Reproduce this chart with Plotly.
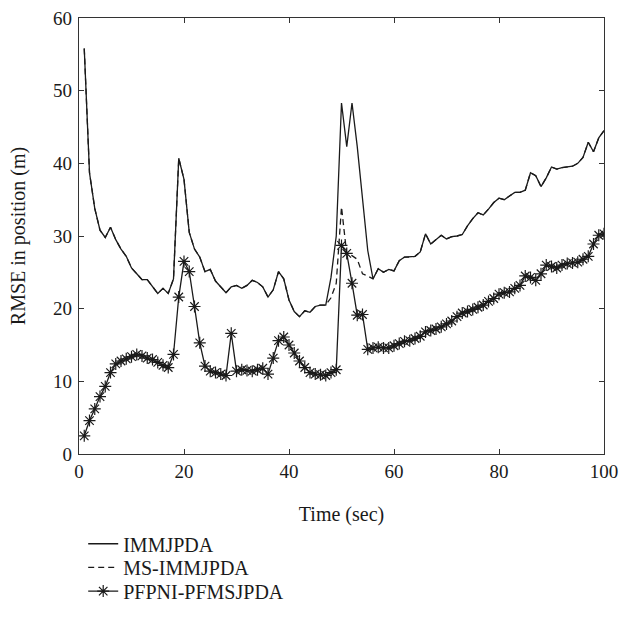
import plotly.graph_objects as go

time = list(range(1, 101))

immjpda = [55.8, 38.7, 33.8, 30.8, 29.8, 31.2, 29.5, 28.2, 27.2, 25.6,
           24.8, 24.0, 24.0, 23.1, 22.1, 22.8, 22.1, 24.1, 40.7, 37.8,
           30.5, 28.2, 27.1, 25.1, 25.4, 23.8, 23.0, 22.2, 23.0, 23.2,
           22.8, 23.2, 23.9, 23.6, 23.0, 21.6, 22.6, 25.1, 24.1, 21.2,
           19.6, 18.9, 19.7, 19.5, 20.3, 20.5, 20.5, 24.3, 30.0, 48.3,
           42.3, 48.3, 42.3, 35.0, 28.0, 24.1, 25.5, 25.0, 25.4, 25.2,
           26.6, 27.1, 27.1, 27.2, 27.8, 30.3, 28.9, 29.5, 30.1, 29.6,
           29.9, 30.0, 30.2, 31.4, 32.4, 33.2, 32.9, 33.7, 34.6, 35.2,
           35.0, 35.5, 36.0, 36.0, 36.3, 38.7, 38.3, 36.8, 38.0, 39.5,
           39.2, 39.4, 39.5, 39.6, 40.0, 40.8, 42.9, 41.6, 43.5, 44.5]

ms_immjpda = [55.8, 38.7, 33.8, 30.8, 29.8, 31.2, 29.5, 28.2, 27.2, 25.6,
              24.8, 24.0, 24.0, 23.1, 22.1, 22.8, 22.1, 24.1, 40.7, 37.8,
              30.5, 28.2, 27.1, 25.1, 25.4, 23.8, 23.0, 22.2, 23.0, 23.2,
              22.8, 23.2, 23.9, 23.6, 23.0, 21.6, 22.6, 25.1, 24.1, 21.2,
              19.6, 18.9, 19.7, 19.5, 20.3, 20.5, 20.5, 21.5, 23.5, 34.0,
              27.5, 27.3, 26.8, 24.8, 24.5, 24.1, 25.5, 25.0, 25.4, 25.2,
              26.6, 27.1, 27.1, 27.2, 27.8, 30.3, 28.9, 29.5, 30.1, 29.6,
              29.9, 30.0, 30.2, 31.4, 32.4, 33.2, 32.9, 33.7, 34.6, 35.2,
              35.0, 35.5, 36.0, 36.0, 36.3, 38.7, 38.3, 36.8, 38.0, 39.5,
              39.2, 39.4, 39.5, 39.6, 40.0, 40.8, 42.9, 41.6, 43.5, 44.5]

pfpni = [2.5, 4.6, 6.2, 7.9, 9.3, 11.2, 12.4, 12.8, 13.1, 13.4,
         13.7, 13.5, 13.2, 13.0, 12.6, 12.2, 11.9, 13.7, 21.6, 26.5,
         25.1, 20.3, 15.3, 12.1, 11.4, 11.2, 11.0, 10.8, 16.6, 11.4,
         11.6, 11.5, 11.4, 11.6, 11.8, 11.0, 13.2, 15.6, 16.1, 15.0,
         13.9, 12.8, 11.9, 11.2, 11.0, 10.9, 10.8, 11.2, 11.6, 28.7,
         27.6, 23.5, 19.1, 19.2, 14.4, 14.6, 14.7, 14.6, 14.6, 14.9,
         15.2, 15.5, 15.6, 15.9, 16.2, 16.8, 17.0, 17.2, 17.5, 17.9,
         18.3, 18.9, 19.4, 19.6, 19.9, 20.2, 20.5, 21.0, 21.4, 22.0,
         22.2, 22.3, 22.8, 23.2, 24.5, 24.3, 23.9, 24.8, 26.0, 25.8,
         25.6, 26.0, 26.2, 26.3, 26.4, 26.8, 27.2, 28.9, 30.1, 30.3]

x_ticks = [0, 20, 40, 60, 80, 100]
y_ticks = [0, 10, 20, 30, 40, 50, 60]

FONT = "Liberation Serif"
INK = "#1a1a1a"

fig = go.Figure()
fig.add_trace(go.Scatter(x=time, y=ms_immjpda, mode="lines", name="MS-IMMJPDA",
                         line=dict(color=INK, width=1.3, dash="6px,4px"), legend="legend2"))
fig.add_trace(go.Scatter(x=time, y=immjpda, mode="lines", name="IMMJPDA",
                         line=dict(color=INK, width=1.3), legend="legend"))
fig.add_trace(go.Scatter(x=time, y=pfpni, mode="lines+markers", name="PFPNI-PFMSJPDA",
                         line=dict(color=INK, width=1.3),
                         marker=dict(symbol="asterisk-open", size=10,
                                     line=dict(color=INK, width=1.2)),
                         legend="legend3"))

axis_common = dict(showgrid=False, zeroline=False, showline=True, linecolor="#333",
                   linewidth=1.3, mirror="ticks", ticks="inside", ticklen=5,
                   tickcolor="#333", automargin=False, ticklabeloverflow="allow",
                   tickfont=dict(family=FONT, size=19, color=INK))

fig.update_xaxes(range=[0, 100], tickvals=x_ticks, ticktext=[str(v) for v in x_ticks],
                 title=dict(text="Time (sec)", font=dict(family=FONT, size=20, color=INK), standoff=26),
                 **axis_common)
fig.update_yaxes(range=[0, 60], tickvals=y_ticks, ticktext=[str(v) for v in y_ticks],
                 ticklabelstandoff=2,
                 title=dict(text="RMSE in position (m)", font=dict(family=FONT, size=20, color=INK), standoff=22),
                 **axis_common)

leg_common = dict(x=0.008, xanchor="left", yanchor="middle",
                  font=dict(family=FONT, size=20, color=INK),
                  bgcolor="rgba(0,0,0,0)", itemwidth=30)

fig.update_layout(
    width=619, height=622,
    margin=dict(l=79, r=15, t=18, b=162),
    paper_bgcolor="white", plot_bgcolor="white",
    font=dict(family=FONT, color=INK),
    showlegend=True,
    legend=dict(y=-0.2059, **leg_common),
    legend2=dict(y=-0.2602, **leg_common),
    legend3=dict(y=-0.3145, **leg_common),
)

# remove the browser's default 8px body margin so the figure fills the window exactly
fig.write_html("out.html", config={"displayModeBar": False},
               post_script="document.body.style.margin='0';")
